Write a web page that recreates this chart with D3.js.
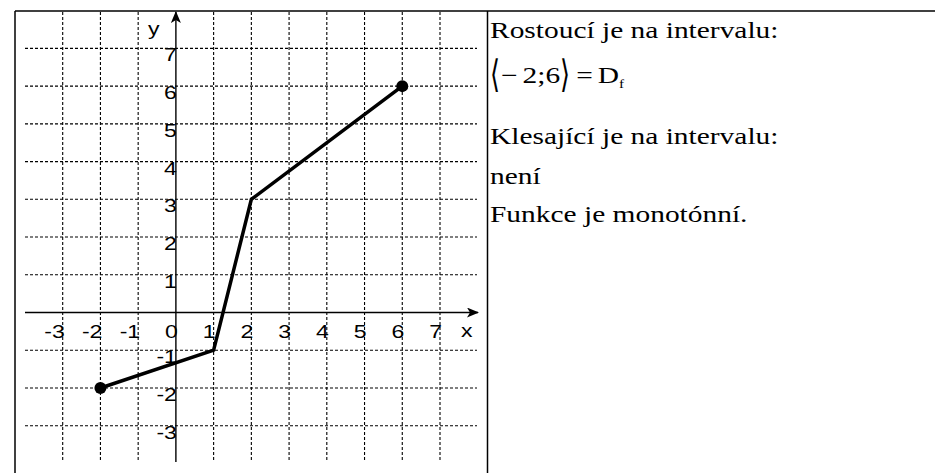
<!DOCTYPE html>
<html>
<head>
<meta charset="utf-8">
<script src="https://cdn.jsdelivr.net/npm/d3@7"></script>
<style>
  html, body { margin: 0; padding: 0; background: #fff; }
  svg { display: block; }
</style>
</head>
<body>
<svg id="chart" width="935" height="473"></svg>
<script>
// Tick values on each axis
const xTicks = [-3, -2, -1, 0, 1, 2, 3, 4, 5, 6, 7];
const yTicks = [-3, -2, -1, 1, 2, 3, 4, 5, 6, 7];
// Vertices of the piecewise-linear function f
const fX = [-2, 1, 2, 6];
const fY = [-2, -1, 3, 6];
// Closed end points of the domain
const endX = [-2, 6];
const endY = [-2, 6];
// Description in the right-hand cell
const line1 = "Rostoucí je na intervalu:";
const line3 = "Klesající je na intervalu:";
const line4 = "není";
const line5 = "Funkce je monotónní.";

const svg = d3.select("#chart");
const sx = 1.28; // horizontal stretch of the lettering

const x = d3.scaleLinear().domain([-3, 7]).range([62.7, 440]);
const y = d3.scaleLinear().domain([-3, 7]).range([425.7, 48.4]);

// table frame
const frame = svg.append("g").attr("stroke", "#000").attr("stroke-width", 1.5);
frame.append("line").attr("x1", 15).attr("x2", 935).attr("y1", 11).attr("y2", 11);
frame.append("line").attr("x1", 15).attr("x2", 15).attr("y1", 11).attr("y2", 473);
frame.append("line").attr("x1", 487.5).attr("x2", 487.5).attr("y1", 11).attr("y2", 473);

// dotted grid
const grid = svg.append("g").attr("stroke", "#000").attr("stroke-width", 1.1)
  .attr("stroke-dasharray", "3,2");
grid.selectAll("line.v").data(xTicks.filter(d => d !== 0)).join("line")
  .attr("class", "v")
  .attr("x1", d => x(d)).attr("x2", d => x(d))
  .attr("y1", 12).attr("y2", 462);
grid.selectAll("line.h").data(yTicks).join("line")
  .attr("class", "h")
  .attr("x1", 25).attr("x2", 477)
  .attr("y1", d => y(d)).attr("y2", d => y(d));

// axes with arrowheads
const defs = svg.append("defs");
defs.append("marker").attr("id", "arrow")
  .attr("viewBox", "0 0 12 10").attr("refX", 11).attr("refY", 5)
  .attr("markerWidth", 12).attr("markerHeight", 10)
  .attr("markerUnits", "userSpaceOnUse").attr("orient", "auto")
  .append("path").attr("d", "M0,0 L12,5 L0,10 L3,5 Z").attr("fill", "#000");

const axes = svg.append("g").attr("stroke", "#000").attr("stroke-width", 1.4);
axes.append("line")
  .attr("x1", 25).attr("x2", 478).attr("y1", y(0)).attr("y2", y(0))
  .attr("marker-end", "url(#arrow)");
axes.append("line")
  .attr("x1", x(0)).attr("x2", x(0)).attr("y1", 462).attr("y2", 12)
  .attr("marker-end", "url(#arrow)");

// stretched label helper
function label(g, px, py, txt, anchor, size, family, sy) {
  return g.append("text")
    .attr("transform", `translate(${px},${py}) scale(${sx},${sy || 1})`)
    .attr("text-anchor", anchor)
    .attr("font-family", family)
    .attr("font-size", size)
    .attr("fill", "#000")
    .text(txt);
}

const tickFont = "Liberation Sans, Arial, sans-serif";
const tl = svg.append("g");
xTicks.forEach(d => label(tl, x(d) + 2, 338, String(d), "end", 18, tickFont));
yTicks.forEach(d => label(tl, x(0) + 1, y(d) + 13, String(d), "end", 18, tickFont));
label(tl, 148, 35, "y", "start", 18, tickFont);
label(tl, 461, 337, "x", "start", 18, tickFont);

// the function graph
const pts = fX.map((v, i) => [v, fY[i]]);
svg.append("path")
  .datum(pts)
  .attr("fill", "none").attr("stroke", "#000").attr("stroke-width", 3.5)
  .attr("stroke-linejoin", "miter")
  .attr("d", d3.line().x(d => x(d[0])).y(d => y(d[1])));
svg.selectAll("circle.end").data(endX.map((v, i) => [v, endY[i]])).join("circle")
  .attr("class", "end")
  .attr("cx", d => x(d[0])).attr("cy", d => y(d[1])).attr("r", 6)
  .attr("fill", "#000");

// right-hand cell
const serif = "Liberation Serif, 'Times New Roman', serif";
const fs = 23;
const tg = svg.append("g");
label(tg, 490, 38, line1, "start", fs, serif);
label(tg, 490, 144, line3, "start", fs, serif);
label(tg, 490, 184, line4, "start", fs, serif);
label(tg, 490, 222, line5, "start", fs, serif);

// interval line: ⟨−2;6⟩ = D_f, laid out piece by piece
const mathY = 83;
let cx = 490;
function piece(txt, size, family, sy, dy, gap) {
  const t = label(tg, cx, mathY + dy, txt, "start", size, family, sy);
  cx += t.node().getComputedTextLength() * sx + gap;
  return t;
}
piece("⟨", 20, "DejaVu Sans", 1.9, 4, 1).attr("font-weight", 200);
piece("−", fs, serif, 1, 0, 5);
piece("2;6", fs, serif, 1, 0, 0);
piece("⟩", 20, "DejaVu Sans", 1.9, 4, 6).attr("font-weight", 200);
piece("=", fs, serif, 1, 0, 5);
const dd = piece("D", fs, serif, 1, 0, 0);
dd.append("tspan").attr("font-size", 12).attr("dy", 5).text("f");
</script>
</body>
</html>
